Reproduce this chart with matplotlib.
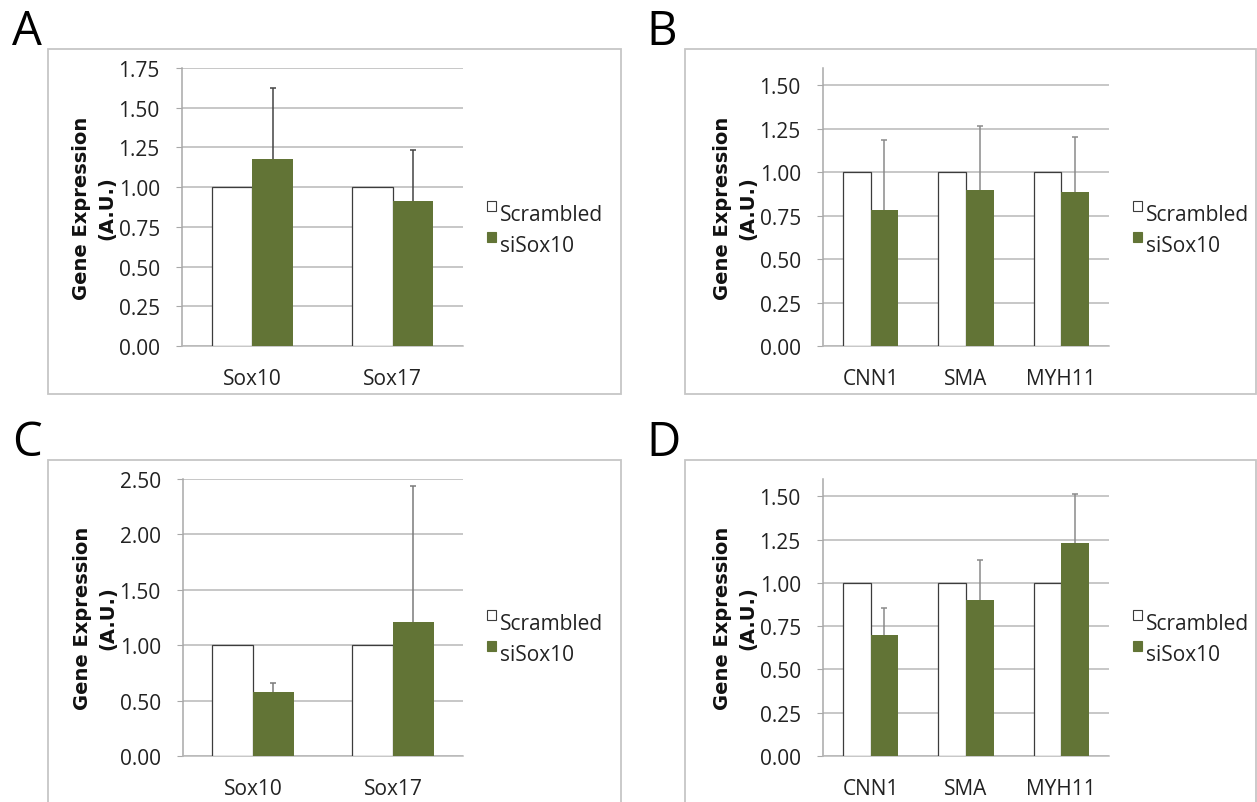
import numpy as np
import matplotlib
matplotlib.use("Agg")
import matplotlib.pyplot as plt
from matplotlib.patches import Rectangle

# values
series = ["Scrambled", "siSox10"]
sox_genes = ["Sox10", "Sox17"]
smc_genes = ["CNN1", "SMA", "MYH11"]

a_scrambled = [1.0, 1.0]
a_sisox10 = [1.175, 0.91]
a_err = [0.45, 0.325]

b_scrambled = [1.0, 1.0, 1.0]
b_sisox10 = [0.785, 0.895, 0.885]
b_err = [0.403, 0.374, 0.317]

c_scrambled = [1.0, 1.0]
c_sisox10 = [0.578, 1.208]
c_err = [0.085, 1.23]

d_scrambled = [1.0, 1.0, 1.0]
d_sisox10 = [0.70, 0.899, 1.23]
d_err = [0.157, 0.235, 0.281]

a_ticks = [0, 0.25, 0.5, 0.75, 1.0, 1.25, 1.5, 1.75]
b_ticks = [0, 0.25, 0.5, 0.75, 1.0, 1.25, 1.5]
c_ticks = [0, 0.5, 1.0, 1.5, 2.0, 2.5]

W, H = 1257, 803
green = "#627436"
grid_col = "#b8b8b8"
frame_col = "#c6c6c6"
font = ["Open Sans", "DejaVu Sans"]


def fbox(x0, y0, x1, y1):
    # pixel box (top-left origin) -> figure fraction
    return [x0 / W, 1 - y1 / H, (x1 - x0) / W, (y1 - y0) / H]


fig = plt.figure(figsize=(W / 100, H / 100), dpi=100)

panels = [
    # letter, frame (x0,y0,x1,y1), axes (x0,ytop,x1,ybottom), ymax, data, ecolor, legend y, letter pos
    ("A", (48, 50, 621, 395), (182, 69, 463, 347), 1.75, sox_genes,
     a_scrambled, a_sisox10, a_err, a_ticks, "#444444", 212, (12, 45)),
    ("B", (685, 50, 1256, 395), (823, 69, 1109, 347), 1.6, smc_genes,
     b_scrambled, b_sisox10, b_err, b_ticks, "#8a8a8a", 212, (646, 45)),
    ("C", (48, 461, 621, 830), (183, 480, 463, 757), 2.5, sox_genes,
     c_scrambled, c_sisox10, c_err, c_ticks, "#7a7a7a", 621, (12, 456)),
    ("D", (685, 461, 1256, 830), (823, 480, 1109, 757), 1.6, smc_genes,
     d_scrambled, d_sisox10, d_err, b_ticks, "#8a8a8a", 621, (646, 456)),
]

for (letter, frame, axbox, ymax, cats, scr, si, err, ticks, ecol,
     leg_y, lpos) in panels:
    fx0, fy0, fx1, fy1 = frame
    fig.add_artist(Rectangle((fx0 / W, 1 - fy1 / H), (fx1 - fx0) / W,
                             (fy1 - fy0) / H, transform=fig.transFigure,
                             fill=False, ec=frame_col, lw=1.3))
    fig.text(lpos[0] / W, 1 - lpos[1] / H, letter, family=font,
             fontsize=34, ha="left", va="baseline")

    ax = fig.add_axes(fbox(*axbox))
    x = np.arange(len(cats))
    w = 0.29
    ax.bar(x - w / 2, scr, w, color="white", edgecolor="#3c3c3c",
           linewidth=0.9, zorder=3)
    ax.bar(x + w / 2, si, w, color=green, linewidth=0, zorder=3)
    # only the upper half of the error bar, tucked behind the bar
    eb = ax.errorbar(x + w / 2, si, yerr=[np.zeros(len(err)), err],
                     fmt="none", ecolor=ecol, elinewidth=1.1, capsize=2.5,
                     capthick=1.1, zorder=2.9)
    caps = eb[1]
    if len(caps) == 2:
        caps[0].set_visible(False)
    ax.set_xlim(-0.5, len(cats) - 0.5)
    ax.set_ylim(0, ymax)
    ax.set_yticks(ticks)
    ax.set_yticklabels(["%.2f" % t for t in ticks])
    ax.set_xticks(x)
    ax.set_xticklabels(cats)
    ax.grid(axis="y", color=grid_col, lw=1.1, zorder=0)
    ax.set_axisbelow(True)
    for s in ["top", "right"]:
        ax.spines[s].set_visible(False)
    ax.spines["left"].set_color("#a8a8a8")
    ax.spines["bottom"].set_color(grid_col)
    ax.spines["left"].set_linewidth(1.1)
    ax.spines["bottom"].set_linewidth(1.1)
    ax.tick_params(axis="y", length=4, color="#a8a8a8", pad=12,
                   labelsize=15, labelcolor="#222222")
    ax.tick_params(axis="x", length=0, pad=16, labelsize=15,
                   labelcolor="#222222")
    for lab in ax.get_xticklabels() + ax.get_yticklabels():
        lab.set_family(font)

    # y axis label
    ax0, ay0, ax1, ay1 = axbox
    lx = -88 / (ax1 - ax0)
    ax.text(lx, 0.5, "Gene Expression\n(A.U.)", transform=ax.transAxes,
            rotation=90, ha="center", va="center", multialignment="center",
            fontsize=14, fontweight="bold", family="DejaVu Sans",
            linespacing=1.4, color="#111111")

    # legend drawn by hand to match the Excel look
    sq_x = ax1 + 24
    for k, (name, fc) in enumerate(zip(series, ["white", green])):
        top = leg_y - 10 + k * 31
        fig.add_artist(Rectangle((sq_x / W, 1 - (top + 10) / H), 9 / W,
                                 10 / H, transform=fig.transFigure,
                                 fc=fc, ec="#3c3c3c" if k == 0 else green,
                                 lw=0.8))
        fig.text((sq_x + 13) / W, 1 - (top + 19) / H, name, family=font,
                 fontsize=15, ha="left", va="baseline", color="#222222")

fig.savefig("out.png", dpi=100)
